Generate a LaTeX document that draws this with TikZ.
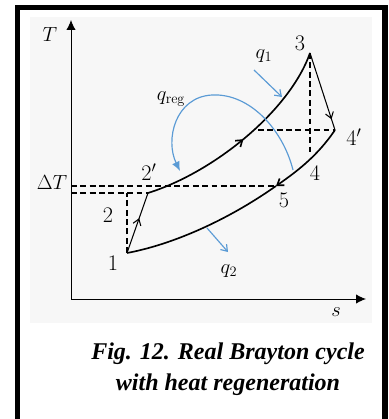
\RequirePackage{fix-cm}
\documentclass[tikz,border=0pt]{standalone}
\usepackage{fontspec}
\newfontfamily\capfont{Liberation Serif}
\usetikzlibrary{arrows.meta, decorations.markings}
\definecolor{qblue}{RGB}{91,155,213}
\definecolor{panel}{RGB}{247,247,247}

\begin{document}
\begin{tikzpicture}[x=0.03cm, y=-0.03cm,
  axis/.style={line width=0.8pt, -{Latex[length=8.5pt,width=8pt]}},
  cycleline/.style={line width=1.4pt},
  thinline/.style={line width=0.9pt},
  guide/.style={line width=1.1pt, dash pattern=on 5pt off 3pt},
  heat/.style={qblue, line width=1pt, -{Straight Barb[length=5pt,width=7pt]}},
  midarrow/.style={postaction={decorate}, decoration={markings,
      mark=at position #1 with {\arrow{Straight Barb[length=5pt,width=7pt]}}}},
  pointlabel/.style={inner sep=0pt, font=\fontsize{19}{19}\selectfont},
  symlabel/.style={inner sep=0pt, font=\fontsize{17.5}{17.5}\selectfont},
  caption/.style={align=center, inner sep=0pt,
      font=\capfont\bfseries\itshape\fontsize{20.5}{26}\selectfont},
]
  \useasboundingbox (0,0) rectangle (388,419);
  \fill[panel] (30,17) rectangle (372,323);
  \draw[line width=4.3pt] (17.5,440) -- (17.5,7.5) -- (385,7.5) -- (385,440);

  % axes
  \coordinate (o) at (71,299);
  \coordinate (ttop) at (71,20);
  \coordinate (send) at (366,299);
  \draw[axis] (o) -- (ttop);
  \draw[axis] (o) -- (send);
  \node[symlabel] (tlab) at (50,34) {$T$};
  \node[symlabel] (slab) at (336,312) {$s$};
  \node[symlabel] (dtlab) at (52,182) {$\Delta T$};

  % cycle states
  \coordinate (p1) at (127,253);
  \coordinate (p2) at (127,193);
  \coordinate (p2p) at (148,193);
  \coordinate (p3) at (310,53);
  \coordinate (p4p) at (335,130);
  \coordinate (p4) at (310,152);
  \coordinate (p5) at (276,186);
  \coordinate (ph) at (258,130);

  \draw[guide] (ttop |- p2p) -- (p2p);
  \draw[guide] (ttop |- p5) -- (p5);
  \draw[guide] (p1) -- (p2);
  \draw[guide] (p3) -- (p4);
  \draw[guide] (ph) -- (p4p);

  \draw[thinline, midarrow=0.58] (p1) -- (p2p);
  \draw[cycleline, midarrow=0.5] (p2p) .. controls (215,172) and (290,110) .. (p3);
  \draw[thinline, midarrow=0.86] (p3) -- (p4p);
  \draw[cycleline, -{Straight Barb[length=5pt,width=7pt]}]
    (p4p) .. controls (318,155) and (299,170) .. (p5);
  \draw[cycleline] (p5) .. controls (225,222) and (170,245) .. (p1);

  \node[pointlabel] (l1) at (113,263) {$1$};
  \node[pointlabel] (l2) at (108,215) {$2$};
  \node[pointlabel] (l2p) at (149,172) {$2'$};
  \node[pointlabel] (l3) at (300,43) {$3$};
  \node[pointlabel] (l4p) at (354,137) {$4'$};
  \node[pointlabel] (l4) at (315,173) {$4$};
  \node[pointlabel] (l5) at (284,200) {$5$};

  % heat flows
  \coordinate (q1a) at (254,70);
  \coordinate (q1b) at (282,97);
  \draw[heat] (q1a) -- (q1b);
  \node[symlabel] (q1lab) at (264,56) {$q_1$};
  \coordinate (q2a) at (207,228);
  \coordinate (q2b) at (228,252);
  \draw[heat] (q2a) -- (q2b);
  \node[symlabel] (q2lab) at (229,271) {$q_2$};
  \coordinate (ra) at (293,170);
  \coordinate (rtop) at (212,95);
  \coordinate (rb) at (180,171);
  \draw[qblue, line width=1pt, -{Latex[length=8pt,width=7pt]}]
    (ra) .. controls (283,130) and (250,93) .. (rtop)
         .. controls (175,97) and (165,140) .. (rb);
  \node[symlabel] (qrlab) at (171,99) {$q_{\mathrm{reg}}$};

  \node[caption] (cap) at (228,369) {Fig. 12. Real Brayton cycle\\with heat regeneration};
\end{tikzpicture}
\end{document}
